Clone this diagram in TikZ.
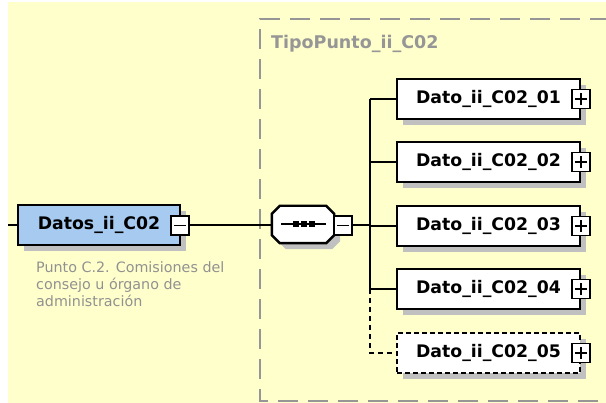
\documentclass[tikz,border=0pt]{standalone}
\usepackage{fontspec}
\setmainfont{DejaVu Sans}
\usetikzlibrary{shadows}
\definecolor{bgc}{RGB}{255,255,204}
\definecolor{shadc}{RGB}{192,192,192}
\definecolor{bluec}{RGB}{166,202,240}
\definecolor{grayc}{RGB}{150,150,150}
\definecolor{descc}{RGB}{145,145,145}
\begin{document}
\begin{tikzpicture}[x=1pt,y=-1pt,
  shad/.style={general shadow={fill=shadc, shadow xshift=6pt, shadow yshift=-6pt}},
  elem/.style={shad, draw=black, line width=2.4pt, fill=white, minimum width=183pt, minimum height=40pt, inner sep=0pt, font=\bfseries\fontsize{17.3}{20}\selectfont},
  optelem/.style={elem, dash pattern=on 5pt off 3pt},
  pm/.style={draw=black, line width=1.9pt, fill=white, minimum width=18pt, minimum height=19pt, inner sep=0pt},
  plus/.style={pm, path picture={
     \draw[line width=1.9pt] ([xshift=-6pt]path picture bounding box.center) -- ([xshift=6pt]path picture bounding box.center);
     \draw[line width=1.9pt] ([yshift=-6pt]path picture bounding box.center) -- ([yshift=6pt]path picture bounding box.center);}},
  minus/.style={pm, path picture={
     \draw[line width=1.9pt] ([xshift=-6pt]path picture bounding box.center) -- ([xshift=6pt]path picture bounding box.center);}},
  conn/.style={line width=2pt, black},
  optconn/.style={conn, dash pattern=on 5pt off 4pt},
  frame/.style={grayc, line width=1.8pt, dash pattern=on 20pt off 10pt}
]
\useasboundingbox (0,0) rectangle (606,403);
\fill[bgc] (8,2) rectangle (606,403);
\begin{scope}
\clip (0,0) rectangle (606,403);
\draw[frame] (640,19) -- (260,19) -- (260,401) -- (640,401);
\end{scope}
\node[anchor=west, text=grayc, font=\bfseries\fontsize{17.5}{20}\selectfont, inner sep=0pt] (tipo) at (271,44) {TipoPunto\_ii\_C02};

% root element
\node[elem, fill=bluec, minimum width=162pt] (datos) at (99,225) {Datos\_ii\_C02\hspace{9pt}};
\node[minus] (datosm) at (180,225.5) {};
\node[anchor=north west, align=left, text=descc, font=\fontsize{14.3}{17}\selectfont, inner sep=0pt] (desc) at (36,261) {Punto C.2. Comisiones del\\consejo u órgano de\\administración};

% sequence compositor (octagon)
\node[minimum width=62pt, minimum height=37pt, inner sep=0pt] (seq) at (303,224.5) {};
\fill[shadc, transform canvas={shift={(6pt,-6pt)}}] ([xshift=8pt]seq.north west) -- ([xshift=-8pt]seq.north east) -- ([yshift=-8pt]seq.north east) -- ([yshift=8pt]seq.south east) -- ([xshift=-8pt]seq.south east) -- ([xshift=8pt]seq.south west) -- ([yshift=8pt]seq.south west) -- ([yshift=-8pt]seq.north west) -- cycle;
\filldraw[fill=white, draw=black, line width=2.4pt] ([xshift=8pt]seq.north west) -- ([xshift=-8pt]seq.north east) -- ([yshift=-8pt]seq.north east) -- ([yshift=8pt]seq.south east) -- ([xshift=-8pt]seq.south east) -- ([xshift=8pt]seq.south west) -- ([yshift=8pt]seq.south west) -- ([yshift=-8pt]seq.north west) -- cycle;
\node[minus] (seqm) at (343,225.5) {};
\draw[line width=2pt] ([xshift=-22pt]seq.center) -- ([xshift=23pt]seq.center);
\foreach \dx in {-7,1,9}
  \fill ([xshift=\dx pt]seq.center) +(-3pt,-3pt) rectangle +(3pt,3pt);

% children
\node[elem] (d1) at (488.5,99) {Dato\_ii\_C02\_01\hspace{6pt}};
\node[elem] (d2) at (488.5,162) {Dato\_ii\_C02\_02\hspace{6pt}};
\node[elem] (d3) at (488.5,226) {Dato\_ii\_C02\_03\hspace{6pt}};
\node[elem] (d4) at (488.5,289) {Dato\_ii\_C02\_04\hspace{6pt}};
\node[optelem] (d5) at (488.5,353) {Dato\_ii\_C02\_05\hspace{6pt}};
\foreach \i in {1,...,5}
  \node[plus] (p\i) at (d\i.east) {};

% connectors
\coordinate (start) at (8,225);
\coordinate (sp) at (370,225.5);
\draw[conn] (start) -- (datos.west);
\draw[conn] (datosm.east) -- (seq.west |- datosm.east);
\draw[conn] (seqm.east) -- (sp);
\draw[conn] (sp |- d1.west) -- (sp |- d4.west);
\foreach \i in {1,...,4}
  \draw[conn] (sp |- d\i.west) -- (d\i.west);
\draw[optconn] (sp |- d4.west) |- (d5.west);
\end{tikzpicture}
\end{document}
